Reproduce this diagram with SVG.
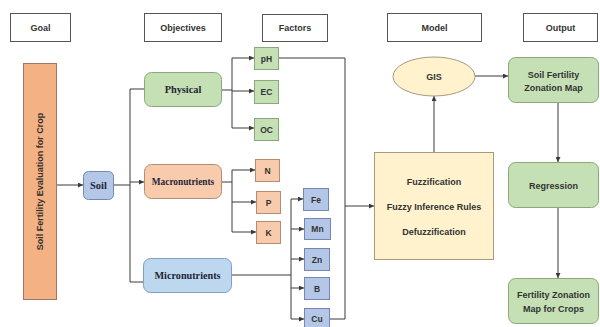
<svg xmlns="http://www.w3.org/2000/svg" width="600" height="327" viewBox="0 0 600 327">
<style>
.hdr{fill:#fff;stroke:#555;stroke-width:1}
.t{font-family:"Liberation Sans",Arial,sans-serif;font-weight:bold;fill:#333;text-anchor:middle;dominant-baseline:central}
.s{font-family:"Liberation Serif","Times New Roman",serif;font-weight:bold;fill:#1e2535;text-anchor:middle;dominant-baseline:central}
.green{fill:#c5e0b4;stroke:#8aa97a;stroke-width:1}
.orange{fill:#f8cbad;stroke:#b58c72;stroke-width:1}
.blue{fill:#b4c7e7;stroke:#7388b5;stroke-width:1}
.lblue{fill:#bdd7ee;stroke:#7f9fc3;stroke-width:1}
.yellow{fill:#fff2cc;stroke:#a89a80;stroke-width:1}
.ln{fill:none;stroke:#3a3a3a;stroke-width:1}
.ar{fill:none;stroke:#3a3a3a;stroke-width:1;marker-end:url(#ah)}
</style>
<defs>
<marker id="ah" markerUnits="userSpaceOnUse" markerWidth="5" markerHeight="5" refX="5" refY="2.5" orient="auto">
<path d="M0,0 L5,2.5 L0,5 z" fill="#3a3a3a"/>
</marker>
</defs>
<rect width="600" height="327" fill="#fff"/>

<g id="connectors">
<path class="ar" d="M57,185 H83"/>
<path class="ln" d="M114,185 H130"/>
<path class="ln" d="M144,89 H130 V282 H143"/>
<path class="ar" d="M130,182 H144"/>
<path class="ln" d="M222,90 H232"/>
<path class="ar" d="M232,91 V58 H254"/>
<path class="ar" d="M232,91 V128 H254"/>
<path class="ar" d="M232,91 H254"/>
<path class="ln" d="M222,182 H232"/>
<path class="ar" d="M232,182 V170 H255"/>
<path class="ar" d="M232,182 V232 H256"/>
<path class="ar" d="M232,202 H256"/>
<path class="ln" d="M232,275 H291"/>
<path class="ar" d="M291,275 V199 H303"/>
<path class="ar" d="M291,229 H304"/>
<path class="ar" d="M291,259 H304"/>
<path class="ar" d="M291,288 H304"/>
<path class="ar" d="M291,275 V319 H304"/>
<path class="ln" d="M279,58 H345 V319 H330"/>
<path class="ar" d="M345,206 H374"/>
<path class="ar" d="M434,152 V96"/>
<path class="ar" d="M475,76 H508"/>
<path class="ar" d="M558,102 V162"/>
<path class="ar" d="M558,207 V278"/>
</g>

<g id="hdr-goal"><rect class="hdr" x="10.5" y="13.5" width="60" height="28"/><text class="t" x="40.5" y="28" font-size="9">Goal</text></g>
<g id="hdr-objectives"><rect class="hdr" x="144.5" y="13.5" width="77" height="28"/><text class="t" x="183" y="28" font-size="9">Objectives</text></g>
<g id="hdr-factors"><rect class="hdr" x="262.5" y="14.5" width="65" height="27"/><text class="t" x="295" y="28" font-size="9">Factors</text></g>
<g id="hdr-model"><rect class="hdr" x="387.5" y="13.5" width="94" height="28"/><text class="t" x="434.5" y="28" font-size="9">Model</text></g>
<g id="hdr-output"><rect class="hdr" x="523.5" y="13.5" width="74" height="28"/><text class="t" x="560.5" y="28" font-size="9">Output</text></g>

<g id="goal"><rect x="23.5" y="63.5" width="33" height="236" fill="#f4b183" stroke="#9a7a66" stroke-width="1"/>
<text class="t" transform="translate(40,181.5) rotate(-90)" x="0" y="0" font-size="9" fill="#333">Soil Fertility Evaluation for Crop</text></g>

<g id="soil"><rect class="blue" x="83.5" y="171.5" width="30" height="28" rx="5"/><text class="s" x="98.5" y="185.5" font-size="10.5">Soil</text></g>

<g id="physical"><rect class="green" x="144.5" y="72.5" width="77" height="34" rx="7"/><text class="s" x="183" y="89.5" font-size="10.3">Physical</text></g>
<g id="macronutrients"><rect class="orange" x="144.5" y="164.5" width="77" height="34" rx="7"/><text class="s" x="183" y="181.5" font-size="9.3">Macronutrients</text></g>
<g id="micronutrients"><rect class="lblue" x="143.5" y="258.5" width="88" height="34" rx="7"/><text class="s" x="187.5" y="275.5" font-size="10.2">Micronutrients</text></g>

<g id="ph"><rect class="green" x="254.5" y="47.5" width="24" height="22"/><text class="t" x="266.5" y="58.5" font-size="8.5">pH</text></g>
<g id="ec"><rect class="green" x="254.5" y="80.5" width="24" height="23"/><text class="t" x="266.5" y="92" font-size="8.5">EC</text></g>
<g id="oc"><rect class="green" x="254.5" y="118.5" width="24" height="22"/><text class="t" x="266.5" y="129.5" font-size="8.5">OC</text></g>

<g id="n"><rect class="orange" x="255.5" y="159.5" width="24" height="22"/><text class="t" x="267.5" y="170.5" font-size="8.5">N</text></g>
<g id="p"><rect class="orange" x="256.5" y="191.5" width="24" height="22"/><text class="t" x="268.5" y="202.5" font-size="8.5">P</text></g>
<g id="k"><rect class="orange" x="256.5" y="221.5" width="24" height="22"/><text class="t" x="268.5" y="232.5" font-size="8.5">K</text></g>

<g id="fe"><rect class="blue" x="303.5" y="188.5" width="25" height="22"/><text class="t" x="316" y="199.5" font-size="8.5">Fe</text></g>
<g id="mn"><rect class="blue" x="304.5" y="218.5" width="26" height="21"/><text class="t" x="317.5" y="229" font-size="8.5">Mn</text></g>
<g id="zn"><rect class="blue" x="304.5" y="248.5" width="25" height="22"/><text class="t" x="317" y="259.5" font-size="8.5">Zn</text></g>
<g id="b"><rect class="blue" x="304.5" y="277.5" width="25" height="22"/><text class="t" x="317" y="288.5" font-size="8.5">B</text></g>
<g id="cu"><rect class="blue" x="304.5" y="308.5" width="25" height="22"/><text class="t" x="317" y="319" font-size="8.5">Cu</text></g>

<g id="model"><rect class="yellow" x="374.5" y="152.5" width="119" height="107"/>
<text class="t" x="434" y="182" font-size="9">Fuzzification</text>
<text class="t" x="434" y="207" font-size="9">Fuzzy Inference Rules</text>
<text class="t" x="434" y="232" font-size="9">Defuzzification</text></g>

<g id="gis"><ellipse class="yellow" cx="434" cy="76.5" rx="41" ry="19.5"/><text class="t" x="434" y="77" font-size="9">GIS</text></g>

<g id="out-map"><rect class="green" x="508.5" y="57.5" width="90" height="45" rx="7"/>
<text class="t" x="553.5" y="75" font-size="9">Soil Fertility</text>
<text class="t" x="553.5" y="88" font-size="9">Zonation Map</text></g>
<g id="regression"><rect class="green" x="508.5" y="162.5" width="90" height="45" rx="7"/><text class="t" x="553.5" y="185.5" font-size="9">Regression</text></g>
<g id="out-crops"><rect class="green" x="508.5" y="278.5" width="90" height="45" rx="7"/>
<text class="t" x="553.5" y="295" font-size="9">Fertility Zonation</text>
<text class="t" x="553.5" y="309" font-size="9">Map for Crops</text></g>
</svg>
